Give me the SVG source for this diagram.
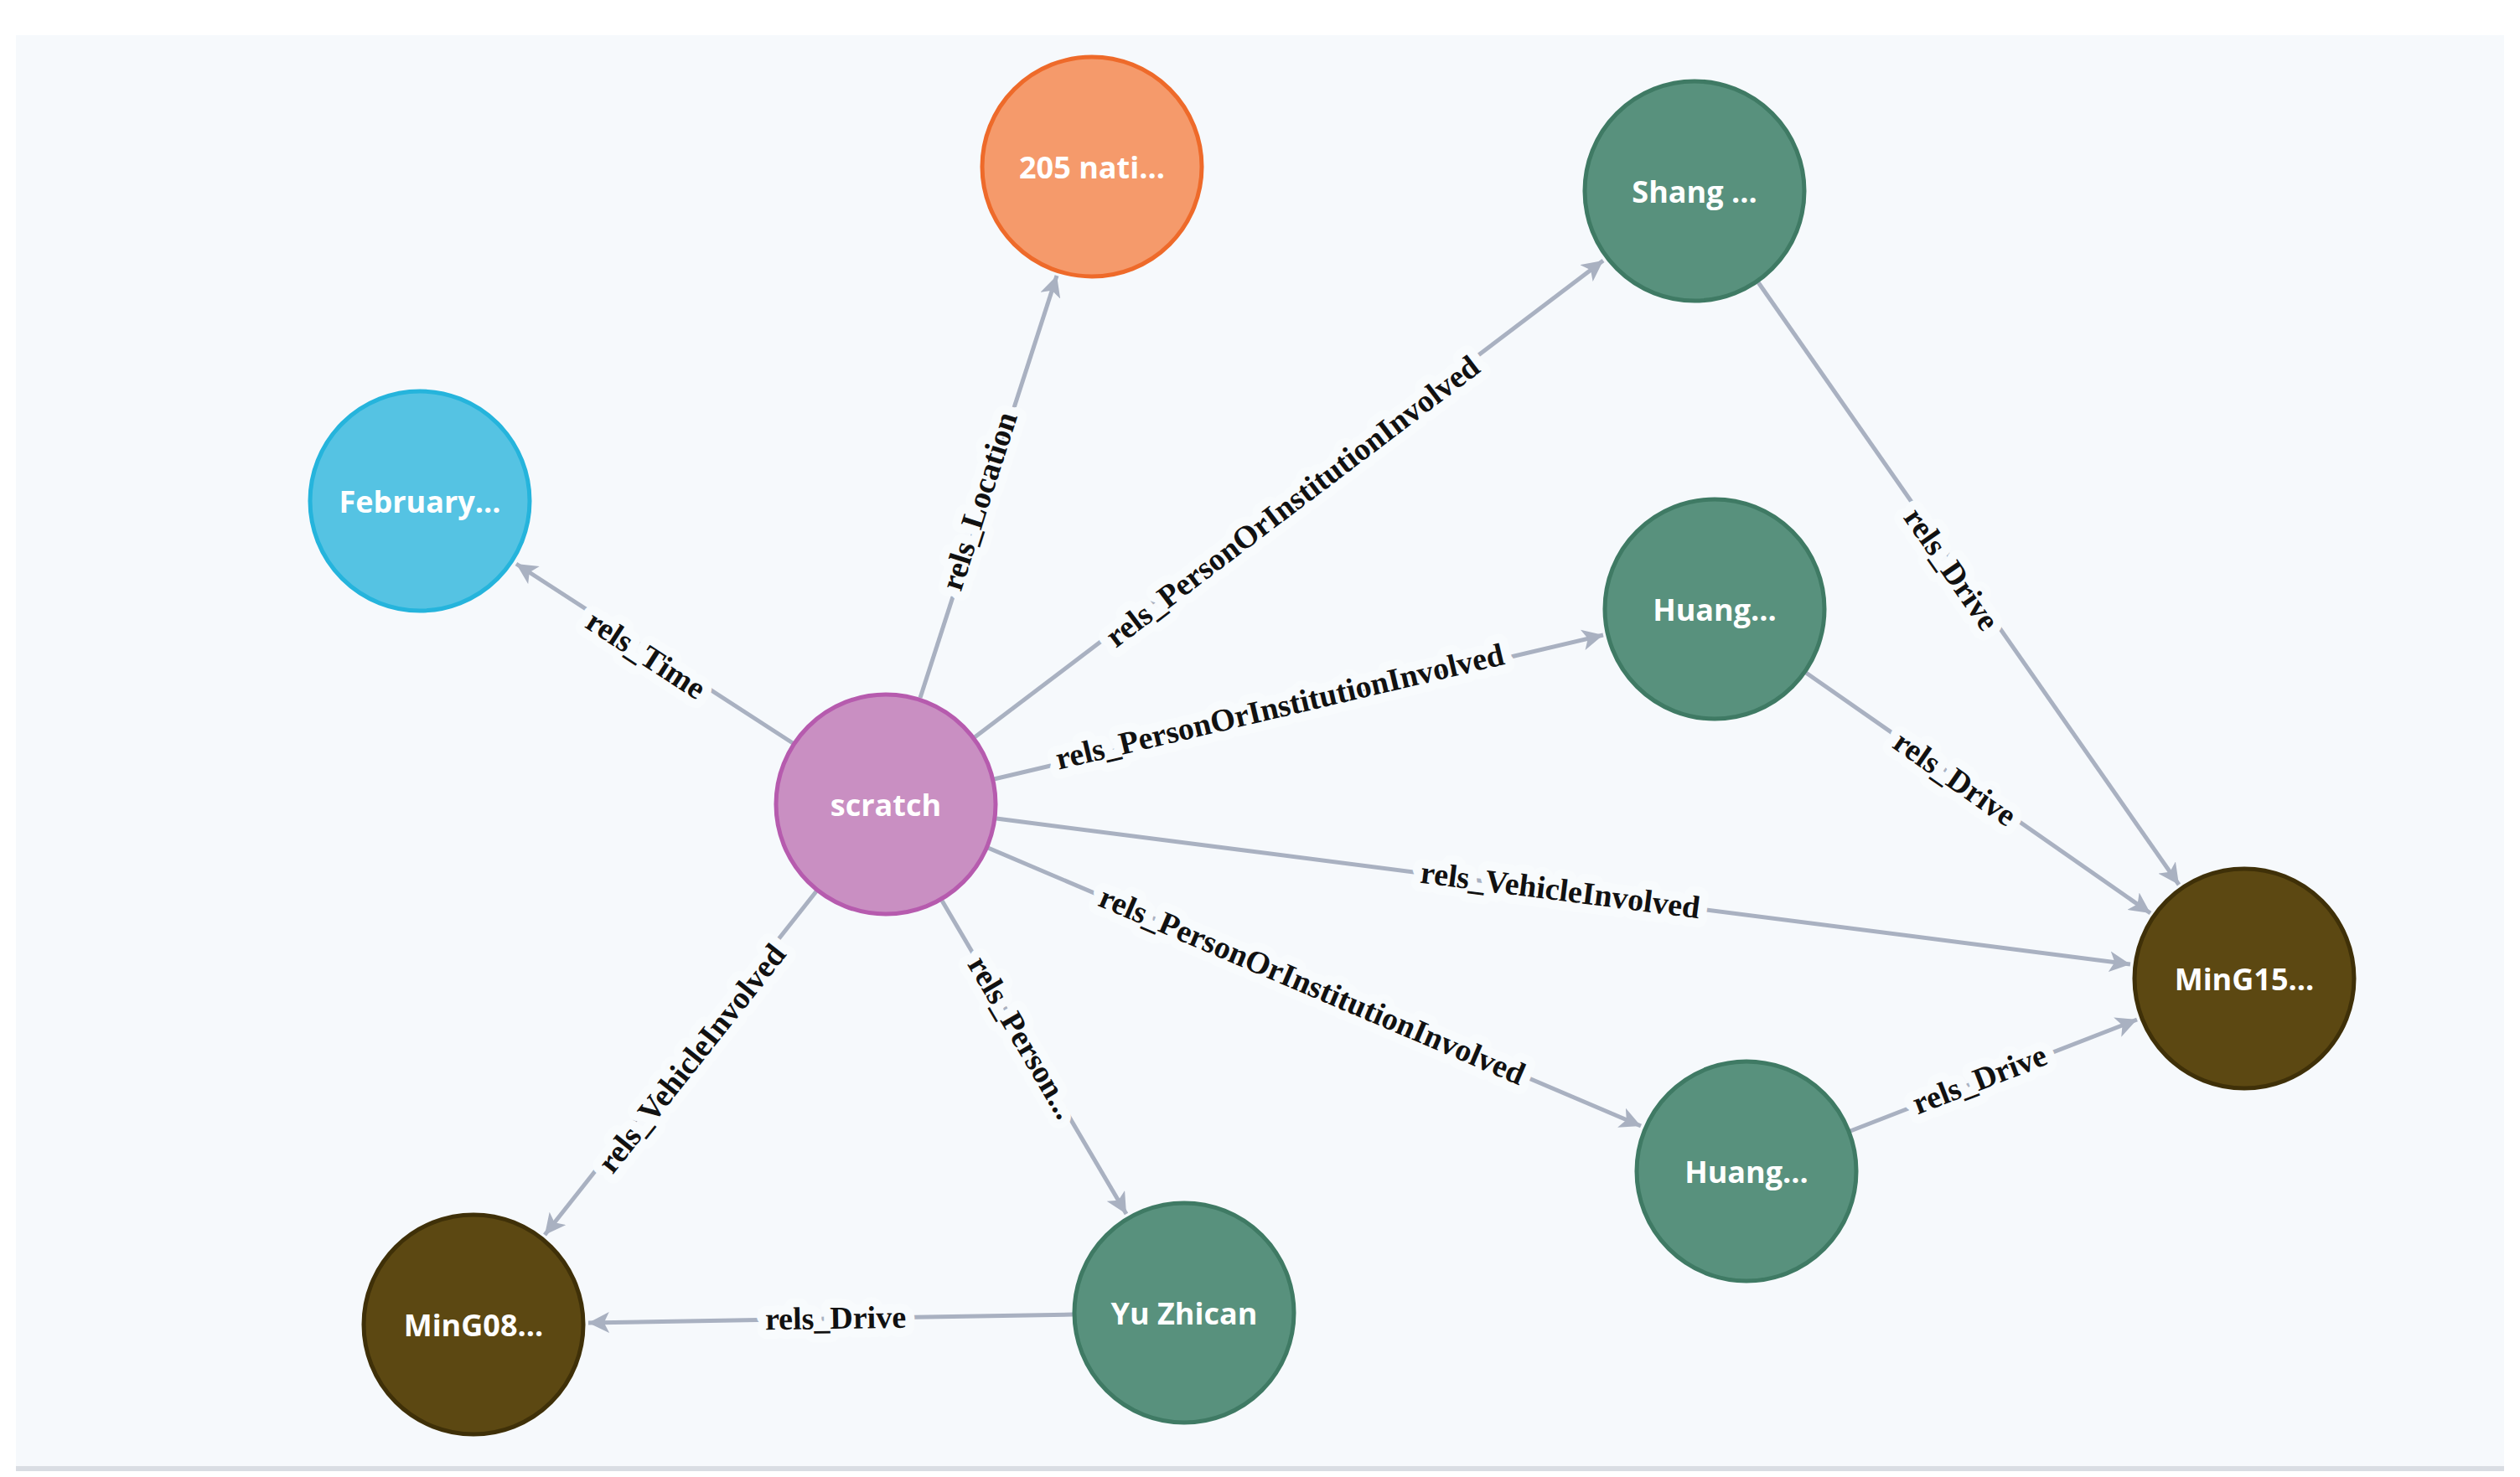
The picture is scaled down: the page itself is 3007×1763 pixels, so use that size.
<svg xmlns="http://www.w3.org/2000/svg" width="3007" height="1763" viewBox="0 0 3007 1763">
<defs>
<marker id="ah" viewBox="0 0 10 10" refX="10" refY="5" markerWidth="5" markerHeight="5" orient="auto" markerUnits="strokeWidth"><path d="M0,0 L10,5 L0,10 L2.5,5 z" fill="#a9b1c1"/></marker>
<style>
.e{stroke:#a9b1c1;stroke-width:5;fill:none;marker-end:url(#ah)}
.el{font-family:"Liberation Serif",serif;font-weight:bold;font-size:38px;fill:#111;text-anchor:middle;dominant-baseline:central;stroke:#f8fbfd;stroke-width:22;paint-order:stroke;stroke-linejoin:round}
.nl{font-family:"Open Sans","Liberation Sans",sans-serif;font-weight:bold;font-size:36px;fill:#fff;text-anchor:middle;dominant-baseline:central}
.g{fill:#58917d;stroke:#3f7a64;stroke-width:5}
.b{fill:#5c4812;stroke:#3f3008;stroke-width:5}
</style>
</defs>
<rect width="3007" height="1763" fill="#fff"/>
<rect x="19" y="42" width="2969" height="1710" fill="#f6f9fc"/>
<rect x="19" y="1750" width="2969" height="6" fill="#d9dde3"/>
<g id="connectors">
<line class="e" x1="946" y1="887" x2="616" y2="673"/>
<line class="e" x1="1098" y1="833" x2="1261" y2="329"/>
<line class="e" x1="1163" y1="880" x2="1913" y2="311"/>
<line class="e" x1="1186" y1="930" x2="1913" y2="758"/>
<line class="e" x1="1189" y1="977" x2="2542" y2="1151"/>
<line class="e" x1="1179" y1="1012" x2="1958" y2="1344"/>
<line class="e" x1="1124" y1="1075" x2="1344" y2="1449"/>
<line class="e" x1="974" y1="1064" x2="650" y2="1474"/>
<line class="e" x1="1280" y1="1569" x2="702" y2="1579"/>
<line class="e" x1="2098" y1="337" x2="2600" y2="1056"/>
<line class="e" x1="2155" y1="803" x2="2566" y2="1090"/>
<line class="e" x1="2208" y1="1350" x2="2550" y2="1217"/>
<text class="el" transform="translate(771,781) rotate(33.1)">rels_Time</text>
<text class="el" transform="translate(1168,598) rotate(-72.1)">rels_Location</text>
<text class="el" transform="translate(1542,598) rotate(-37.2)">rels_PersonOrInstitutionInvolved</text>
<text class="el" transform="translate(1527,843) rotate(-13.3)">rels_PersonOrInstitutionInvolved</text>
<text class="el" transform="translate(1862,1062) rotate(7.3)">rels_VehicleInvolved</text>
<text class="el" transform="translate(1566,1176) rotate(23.1)">rels_PersonOrInstitutionInvolved</text>
<text class="el" transform="translate(1220,1238) rotate(59.6)">rels_Person...</text>
<text class="el" transform="translate(825,1263) rotate(-51.6)">rels_VehicleInvolved</text>
<text class="el" transform="translate(997,1573) rotate(-0.9)">rels_Drive</text>
<text class="el" transform="translate(2329,679) rotate(55.1)">rels_Drive</text>
<text class="el" transform="translate(2333,929) rotate(34.9)">rels_Drive</text>
<text class="el" transform="translate(2362,1288) rotate(-21.2)">rels_Drive</text>
</g>
<g id="n-loc"><circle cx="1303" cy="199" r="131" fill="#f59a6b" stroke="#ee6a2a" stroke-width="5"/><text class="nl" x="1303" y="199">205 nati...</text></g>
<g id="n-shang"><circle class="g" cx="2022" cy="228" r="131"/><text class="nl" x="2022" y="228">Shang ...</text></g>
<g id="n-feb"><circle cx="501" cy="598" r="131" fill="#55c3e3" stroke="#25b4dc" stroke-width="5"/><text class="nl" x="501" y="598">February...</text></g>
<g id="n-huang1"><circle class="g" cx="2046" cy="727" r="131"/><text class="nl" x="2046" y="727">Huang...</text></g>
<g id="n-scratch"><circle cx="1057" cy="960" r="131" fill="#c98fc2" stroke="#b65bae" stroke-width="5"/><text class="nl" x="1057" y="960">scratch</text></g>
<g id="n-ming15"><circle class="b" cx="2678" cy="1168" r="131"/><text class="nl" x="2678" y="1168">MinG15...</text></g>
<g id="n-huang2"><circle class="g" cx="2084" cy="1398" r="131"/><text class="nl" x="2084" y="1398">Huang...</text></g>
<g id="n-ming08"><circle class="b" cx="565" cy="1581" r="131"/><text class="nl" x="565" y="1581">MinG08...</text></g>
<g id="n-yu"><circle class="g" cx="1413" cy="1567" r="131"/><text class="nl" x="1413" y="1567">Yu Zhican</text></g>
</svg>
